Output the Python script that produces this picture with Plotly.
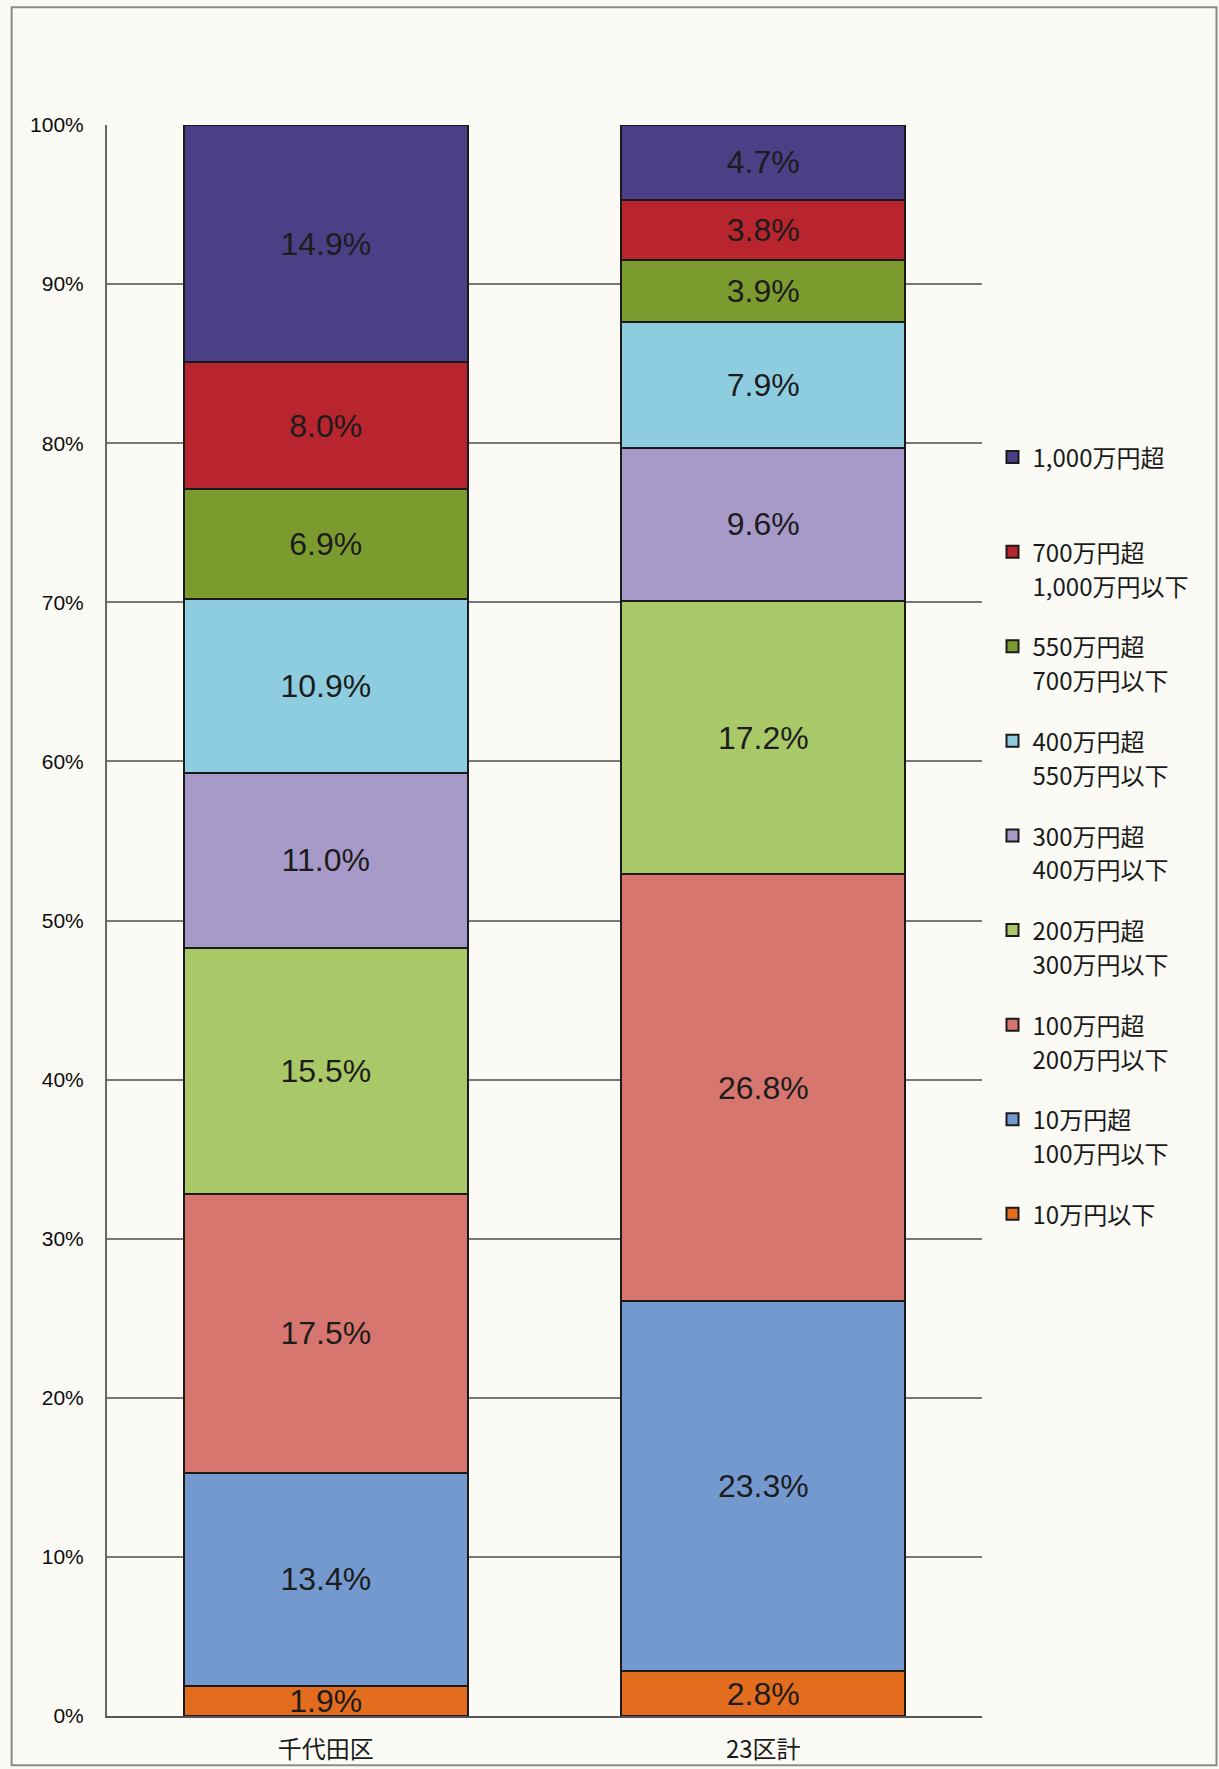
import plotly.graph_objects as go

categories = ["千代田区", "23区計"]

series_lines = [
    ["10万円以下", "\u3000"],
    ["10万円超", "100万円以下"],
    ["100万円超", "200万円以下"],
    ["200万円超", "300万円以下"],
    ["300万円超", "400万円以下"],
    ["400万円超", "550万円以下"],
    ["550万円超", "700万円以下"],
    ["700万円超", "1,000万円以下"],
    ["1,000万円超", "\u3000"],
]

chiyoda = [1.9, 13.4, 17.5, 15.5, 11.0, 10.9, 6.9, 8.0, 14.9]
ku23 = [2.8, 23.3, 26.8, 17.2, 9.6, 7.9, 3.9, 3.8, 4.7]

colors = [
    "#E36C1E",
    "#7499CF",
    "#D7766F",
    "#A9C867",
    "#A79AC8",
    "#8ECDE0",
    "#7C9B2E",
    "#B8252F",
    "#4B3F85",
]

tick_vals = [0, 10, 20, 30, 40, 50, 60, 70, 80, 90, 100]
tick_text = ["0%", "10%", "20%", "30%", "40%", "50%", "60%", "70%", "80%", "90%", "100%"]


def legend_label(lines):
    return "<br>".join(f'<span style="font-size:24px">{ln}</span>' for ln in lines)


fig = go.Figure()
for i, lines in enumerate(series_lines):
    vals = [chiyoda[i], ku23[i]]
    fig.add_trace(go.Bar(
        x=categories,
        y=vals,
        name=legend_label(lines),
        legendgroup=f"g{i}",
        legendrank=100 - i,
        marker=dict(color=colors[i], line=dict(color="#1a1a1a", width=2)),
        text=[f"{v:.1f}%" for v in vals],
        textposition="inside",
        insidetextanchor="middle",
        textangle=0,
        textfont=dict(family="Liberation Sans, Arial", size=32, color="#1c1c1c"),
        width=0.65,
        hoverinfo="skip",
    ))

bg = "#FBFAF5"
fig.update_layout(
    barmode="stack",
    width=1219,
    height=1769,
    margin=dict(l=107, r=237, t=125, b=53),
    paper_bgcolor=bg,
    plot_bgcolor=bg,
    uniformtext=dict(minsize=32, mode="show"),
    showlegend=True,
    legend=dict(
        x=1.012, xanchor="left",
        y=0.806, yanchor="top",
        traceorder="grouped",
        tracegroupgap=24,
        valign="top",
        font=dict(family="Noto Sans CJK JP", size=26, color="#1a1a1a"),
        bgcolor="rgba(0,0,0,0)",
    ),
    xaxis=dict(
        range=[-0.5, 1.5],
        showline=True,
        linecolor="#555555",
        linewidth=2,
        ticks="",
        tickfont=dict(family="Noto Sans CJK JP", size=24, color="#1a1a1a"),
        ticklabelstandoff=11,
        automargin=False,
        showgrid=False,
        zeroline=False,
        fixedrange=True,
    ),
    yaxis=dict(
        range=[0, 100],
        tickvals=tick_vals,
        ticktext=tick_text,
        showline=True,
        linecolor="#666666",
        linewidth=2,
        showgrid=True,
        gridcolor="#777777",
        gridwidth=1.5,
        ticks="",
        ticklabelstandoff=17,
        automargin=False,
        tickfont=dict(family="Liberation Sans, Arial", size=21, color="#0d0d0d"),
        zeroline=False,
        fixedrange=True,
    ),
    shapes=[
        dict(type="rect", xref="paper", yref="paper",
             x0=-0.109, x1=1.268, y0=-0.031, y1=1.074,
             line=dict(color="#8a8a8a", width=2), fillcolor="rgba(0,0,0,0)",
             layer="below"),
    ],
)

fig.write_html("out.html")
